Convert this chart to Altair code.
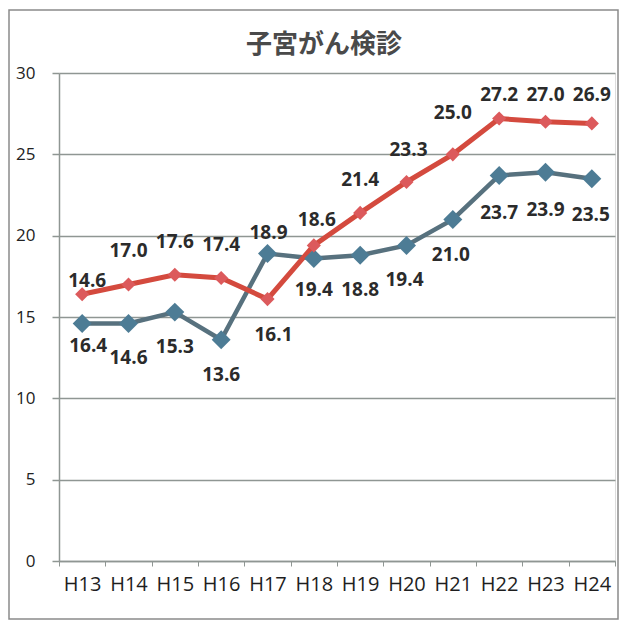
import altair as alt
import pandas as pd

# ---- data ----
years = ["H13", "H14", "H15", "H16", "H17", "H18", "H19", "H20", "H21", "H22", "H23", "H24"]
series_red = [16.4, 17.0, 17.6, 17.4, 16.1, 19.4, 21.4, 23.3, 25.0, 27.2, 27.0, 26.9]
series_blue = [14.6, 14.6, 15.3, 13.6, 18.9, 18.6, 18.8, 19.4, 21.0, 23.7, 23.9, 23.5]
# data labels as printed in the chart (upper row / lower row)
labels_upper = ["14.6", "17.0", "17.6", "17.4", "18.9", "18.6", "21.4", "23.3", "25.0", "27.2", "27.0", "26.9"]
labels_lower = ["16.4", "14.6", "15.3", "13.6", "16.1", "19.4", "18.8", "19.4", "21.0", "23.7", "23.9", "23.5"]
title_text = "子宮がん検診"

# ---- layout (pixel offsets of labels from their anchor point) ----
upper_dy = [-13, -33, -33, -33, -21, -25, -33, -32, -41, -24, -27, -28]
lower_dy = [22, 34, 35, 35, 36, 32, 35, 35, 36, 38, 38, 36]
upper_dx = [5, 0, 0, 0, 1, 3, 0, 2, 0, 0, 0, 0]
lower_dx = [6, 0, 0, 0, 6, 0, 0, -2, -2, 0, 0, -1]

RED_LINE = "#d44a3e"
RED_PT = "#dc5a5c"
BLUE_LINE = "#57717e"
BLUE_PT = "#4d7c95"
GRID = "#8f9693"

W, H = 556, 488

red_df = pd.DataFrame({"year": years, "value": series_red})
blue_df = pd.DataFrame({"year": years, "value": series_blue})

lab_rows = []
for i, y in enumerate(years):
    hi = max(series_red[i], series_blue[i])
    lo = min(series_red[i], series_blue[i])
    lab_rows.append({"year": y, "value": hi, "text": labels_upper[i], "dy": upper_dy[i], "dx": upper_dx[i]})
    lab_rows.append({"year": y, "value": lo, "text": labels_lower[i], "dy": lower_dy[i], "dx": lower_dx[i]})
lab_df = pd.DataFrame(lab_rows)

x_enc = alt.X(
    "year:N",
    sort=years,
    bandPosition=0.5,
    scale=alt.Scale(type="band", paddingInner=0, paddingOuter=0),
    axis=alt.Axis(
        title=None,
        labelAngle=0,
        labelFont="Open Sans",
        labelFontSize=20,
        labelColor="#1e1e1e",
        labelPadding=8,
        tickBand="extent",
        tickSize=5,
        tickColor=GRID,
        domainColor=GRID,
        domainWidth=1.5,
        grid=False,
    ),
)
y_enc = alt.Y(
    "value:Q",
    scale=alt.Scale(domain=[0, 30], nice=False, zero=True),
    axis=alt.Axis(
        title=None,
        values=[0, 5, 10, 15, 20, 25, 30],
        labelFont="Open Sans",
        labelFontSize=17,
        labelColor="#222222",
        labelPadding=17,
        tickSize=7,
        tickColor=GRID,
        tickWidth=1.5,
        domainColor=GRID,
        domainWidth=1.5,
        grid=True,
        gridColor=GRID,
        gridWidth=1.5,
    ),
)

blue_line = alt.Chart(blue_df).mark_line(color=BLUE_LINE, strokeWidth=4.5).encode(x=x_enc, y=y_enc)
blue_pts = alt.Chart(blue_df).mark_point(
    shape="diamond", filled=True, size=360, color=BLUE_PT, opacity=1
).encode(x=x_enc, y=y_enc)
red_line = alt.Chart(red_df).mark_line(color=RED_LINE, strokeWidth=5).encode(x=x_enc, y=y_enc)
red_pts = alt.Chart(red_df).mark_point(
    shape="diamond", filled=True, size=200, color=RED_PT, opacity=1
).encode(x=x_enc, y=y_enc)

label_layers = []
for (ddx, ddy), grp in lab_df.groupby(["dx", "dy"]):
    label_layers.append(
        alt.Chart(grp.reset_index(drop=True)).mark_text(
            font="Open Sans", fontSize=19, fontWeight="bold", color="#2b2b2b",
            baseline="middle", align="center", dx=int(ddx), dy=int(ddy)
        ).encode(x=x_enc, y=y_enc, text="text:N")
    )

title_mark = alt.Chart(alt.Data(values=[{"t": title_text}])).mark_text(
    font="Noto Sans CJK JP", fontSize=26, fontWeight="bold", color="#4a4a4a",
    align="center", baseline="middle"
).encode(x=alt.value(W / 2 - 13), y=alt.value(-28), text="t:N")

border = alt.Chart(alt.Data(values=[{}])).mark_rect(
    fill=None, stroke="#8a8a8a", strokeWidth=1.5
).encode(
    x=alt.value(-50), x2=alt.value(559), y=alt.value(-63), y2=alt.value(546)
)

chart = alt.layer(border, blue_line, red_line, blue_pts, red_pts, *label_layers, title_mark).properties(
    width=W,
    height=H,
    autosize=alt.AutoSizeParams(type="none"),
    padding={"left": 51, "top": 65, "right": 4, "bottom": 60},
).configure_view(stroke=None).configure(background="white")

chart.save("out.html", embed_options={"renderer": "svg", "actions": False})
